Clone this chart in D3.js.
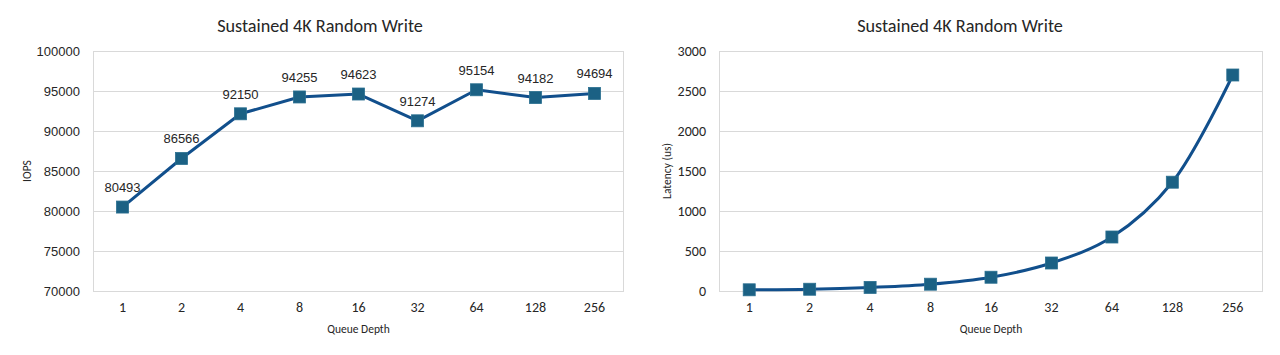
<!DOCTYPE html>
<html><head><meta charset="utf-8">
<script src="https://cdn.jsdelivr.net/npm/d3@7"></script>
<style>
html,body{margin:0;padding:0;background:#fff;}
svg{display:block;}
</style></head>
<body>
<svg id="chart" width="1280" height="355"></svg>
<script>
const queueDepths = ["1","2","4","8","16","32","64","128","256"];
const iopsValues = [80493, 86566, 92150, 94255, 94623, 91274, 95154, 94182, 94694];
const latencyValues = [15, 22, 45, 85, 172, 350, 675, 1360, 2700];
const iopsTicks = [70000, 75000, 80000, 85000, 90000, 95000, 100000];
const latencyTicks = [0, 500, 1000, 1500, 2000, 2500, 3000];
const chartTitle = "Sustained 4K Random Write";
const xTitle = "Queue Depth";
const iopsTitle = "IOPS";
const latencyTitle = "Latency (us)";

const svg = d3.select("#chart");
const calibri = "Carlito, Lato, 'Open Sans', sans-serif";
const arial = "'Liberation Sans', Arial, sans-serif";
const lineColor = "#114f8c";
const markerColor = "#1b6184";
const gridColor = "#d9d9d9";

function drawChart(opts) {
  const g = svg.append("g");
  const x = d3.scaleBand().domain(queueDepths).range([opts.left, opts.right]);
  const y = d3.scaleLinear().domain([opts.ticks[0], opts.ticks[opts.ticks.length-1]]).range([291, 51]);

  // title
  g.append("text").attr("x", opts.cx).attr("y", 32).attr("text-anchor","middle")
    .attr("font-family", calibri).attr("font-size", 18.2).attr("fill","#262626").text(chartTitle);

  // gridlines
  g.append("g").selectAll("line").data(opts.ticks).join("line")
    .attr("x1", opts.left).attr("x2", opts.right)
    .attr("y1", d => Math.round(y(d))+0.5).attr("y2", d => Math.round(y(d))+0.5)
    .attr("stroke", gridColor).attr("stroke-width", 1);
  // frame
  g.append("rect").attr("x", opts.left+0.5).attr("y", 51.5)
    .attr("width", opts.right-opts.left-1).attr("height", 240)
    .attr("fill","none").attr("stroke", gridColor);

  // y axis
  const yAxis = d3.axisLeft(y).tickValues(opts.ticks).tickSize(0).tickPadding(0).tickFormat(d3.format("d"));
  const ya = g.append("g").attr("transform", `translate(${opts.left - opts.ytickGap},0)`).call(yAxis);
  ya.select(".domain").remove();
  ya.selectAll("text").attr("font-family", opts.yFont).attr("font-size", opts.yFontSize).attr("fill","#262626");

  // x axis
  const xAxis = d3.axisBottom(x).tickSize(0).tickPadding(0);
  const xa = g.append("g").attr("transform", `translate(0,302)`).call(xAxis);
  xa.select(".domain").remove();
  xa.selectAll("text").attr("font-family", calibri).attr("font-size", 14).attr("fill","#262626");

  // axis titles
  g.append("text").attr("x", (opts.left+opts.right)/2).attr("y", 333).attr("text-anchor","middle")
    .attr("font-family", calibri).attr("font-size", 11.5).attr("fill","#262626").text(xTitle);
  g.append("text").attr("transform", `translate(${opts.ytx},171) rotate(-90)`).attr("text-anchor","middle")
    .attr("font-family", calibri).attr("font-size", 11.5).attr("fill","#262626").text(opts.yTitle);

  const pts = opts.values.map((v,i) => [x(queueDepths[i]) + x.bandwidth()/2, y(v)]);
  const line = d3.line().curve(opts.curve);
  g.append("path").attr("d", line(pts)).attr("fill","none").attr("stroke", lineColor)
    .attr("stroke-width", 3).attr("stroke-linejoin","round");

  g.append("g").selectAll("rect").data(pts).join("rect")
    .attr("x", d => d[0]-6).attr("y", d => d[1]-6).attr("width", 12).attr("height", 12)
    .attr("fill", markerColor).attr("stroke", "#2a6f90").attr("stroke-width", 0.8);

  if (opts.labels) {
    g.append("g").selectAll("text").data(pts).join("text")
      .attr("x", d => d[0]).attr("y", d => d[1]-15).attr("text-anchor","middle")
      .attr("font-family", arial).attr("font-size", 13).attr("fill","#262626")
      .text((d,i) => opts.values[i]);
  }
}

drawChart({left: 93, right: 624, cx: 320, ticks: iopsTicks, values: iopsValues,
  yFont: arial, yFontSize: 13, ytickGap: 13, ytx: 31, yTitle: iopsTitle,
  curve: d3.curveLinear, labels: true});
drawChart({left: 719, right: 1263, cx: 960, ticks: latencyTicks, values: latencyValues,
  yFont: calibri, yFontSize: 14, ytickGap: 13, ytx: 671, yTitle: latencyTitle,
  curve: d3.curveCatmullRom, labels: false});
</script>
</body></html>
